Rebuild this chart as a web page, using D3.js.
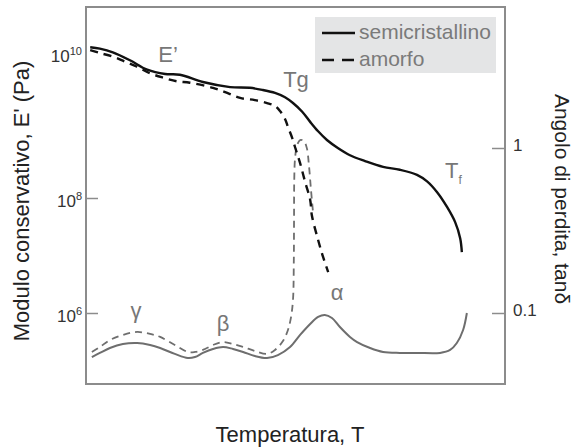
<!DOCTYPE html>
<html>
<head>
<meta charset="utf-8">
<script src="https://cdn.jsdelivr.net/npm/d3@7"></script>
<style>
  body { margin: 0; background: #fff; }
  svg { display: block; font-family: "Liberation Sans", Arial, sans-serif; }
</style>
</head>
<body>
<div id="chart"></div>
<script>
// temperature is unitless (0..100), E' stored as log10(Pa), tanδ as log10(tanδ)
const tSemiE = [1.0, 3.3, 6.4, 10.5, 14.6, 18.9, 22.4, 27.9, 34.4, 39.1, 42.2, 45.1, 47.5, 49.4, 51.6, 53.5, 55.4, 57.5, 60.1, 63.0, 66.6, 70.9, 74.9, 79.0, 81.4, 83.8, 86.2, 88.1, 89.3, 89.7];
const eSemi  = [10.08, 10.06, 10.01, 9.90, 9.77, 9.71, 9.70, 9.60, 9.53, 9.52, 9.49, 9.45, 9.39, 9.31, 9.19, 9.05, 8.92, 8.80, 8.69, 8.59, 8.51, 8.43, 8.39, 8.32, 8.23, 8.08, 7.84, 7.58, 7.30, 7.06];

const tAmorfoE = [1.0, 3.3, 6.4, 9.3, 12.2, 15.3, 18.4, 21.7, 24.8, 30.3, 33.7, 36.8, 40.3, 43.2, 45.1, 46.3, 47.5, 48.2, 49.2, 49.9, 51.1, 52.3, 53.5, 53.9, 55.4, 56.6, 57.8];
const eAmorfo  = [10.04, 10.0, 9.95, 9.88, 9.81, 9.72, 9.66, 9.61, 9.59, 9.52, 9.45, 9.38, 9.35, 9.31, 9.27, 9.20, 9.09, 8.98, 8.83, 8.70, 8.48, 8.22, 7.97, 7.70, 7.27, 6.97, 6.71];

const tSemiTan = [1.4, 3.3, 5.7, 8.8, 12.2, 15.3, 17.7, 21.2, 24.3, 26.0, 27.9, 30.3, 32.7, 35.1, 37.5, 40.3, 43.2, 45.8, 48.7, 51.1, 53.5, 55.4, 57.0, 58.7, 60.6, 63.0, 64.7, 67.8, 70.9, 74.9, 79.0, 84.5, 86.9, 88.5, 90.0, 90.9];
const tanSemi  = [-1.267, -1.242, -1.212, -1.188, -1.182, -1.194, -1.212, -1.248, -1.273, -1.267, -1.242, -1.218, -1.206, -1.218, -1.236, -1.261, -1.273, -1.255, -1.206, -1.133, -1.067, -1.024, -1.012, -1.030, -1.085, -1.145, -1.176, -1.212, -1.236, -1.242, -1.242, -1.242, -1.224, -1.182, -1.103, -1.0];

const tAmorfoTan = [1.4, 3.3, 5.7, 8.8, 12.2, 15.3, 17.7, 21.2, 24.3, 26.0, 27.9, 30.3, 32.7, 35.1, 37.5, 40.3, 43.2, 45.1, 47.0, 48.2, 48.9, 49.4, 49.6, 49.65, 49.7, 49.9, 50.4, 51.1, 52.0, 52.7, 53.2, 53.7, 54.2];
const tanAmorfo  = [-1.236, -1.206, -1.164, -1.133, -1.115, -1.127, -1.145, -1.194, -1.236, -1.236, -1.224, -1.194, -1.176, -1.188, -1.206, -1.230, -1.248, -1.224, -1.170, -1.103, -1.030, -0.921, -0.679, -0.436, -0.194, -0.061, 0.018, 0.048, 0.042, 0.0, -0.103, -0.255, -0.394];

const eTicks = [1e6, 1e8, 1e10];
const tanTicks = [0.1, 1];
const legendLabels = ["semicristallino", "amorfo"];

const W = 576, H = 448;
const svg = d3.select("#chart").append("svg").attr("width", W).attr("height", H);

const x = d3.scaleLinear().domain([0, 100]).range([86, 505]);
// the drawing is schematic: decades on the left axis are not evenly spaced
const yE = d3.scaleLog().domain(eTicks).range([313, 198, 53]);
const yTan = d3.scaleLog().domain(tanTicks).range([313, 148]);

const zip = (a, b) => a.map((t, i) => [t, b[i]]);
const lineE = d3.line().x(d => x(d[0])).y(d => yE(Math.pow(10, d[1]))).curve(d3.curveCatmullRom.alpha(0.5));
const lineTan = d3.line().x(d => x(d[0])).y(d => yTan(Math.pow(10, d[1]))).curve(d3.curveCatmullRom.alpha(0.5));

// frame
svg.append("rect")
  .attr("x", 86).attr("y", 7).attr("width", 419).attr("height", 377)
  .attr("fill", "none").attr("stroke", "#8c8c8c").attr("stroke-width", 2);

// left axis
const gl = svg.append("g").attr("transform", "translate(86,0)")
  .call(d3.axisLeft(yE).tickValues(eTicks).tickSizeInner(-12).tickSizeOuter(0).tickPadding(4));
gl.select(".domain").remove();
gl.selectAll(".tick line").attr("stroke", "#8c8c8c").attr("stroke-width", 1.5)
  .filter(d => d === 1e10).remove();
gl.selectAll(".tick text").each(function (d) {
  const t = d3.select(this).text("").attr("fill", "#333").attr("font-size", 17).attr("y", 3);
  t.append("tspan").text("10");
  t.append("tspan").attr("font-size", 11).attr("dy", -7).text(Math.round(Math.log10(d)));
});

// right axis
const gr = svg.append("g").attr("transform", "translate(505,0)")
  .call(d3.axisRight(yTan).tickValues(tanTicks).tickFormat(d3.format("")).tickSizeInner(-13).tickSizeOuter(0).tickPadding(8));
gr.select(".domain").remove();
gr.selectAll(".tick line").attr("stroke", "#8c8c8c").attr("stroke-width", 1.5);
gr.selectAll(".tick text").attr("fill", "#333").attr("font-size", 17).attr("y", -3);

// tan delta curves (grey)
svg.append("path").datum(zip(tSemiTan, tanSemi)).attr("d", lineTan)
  .attr("fill", "none").attr("stroke", "#6e6e6e").attr("stroke-width", 2);
svg.append("path").datum(zip(tAmorfoTan, tanAmorfo)).attr("d", lineTan)
  .attr("fill", "none").attr("stroke", "#6e6e6e").attr("stroke-width", 1.8).attr("stroke-dasharray", "7,5");

// storage modulus curves (black)
svg.append("path").datum(zip(tSemiE, eSemi)).attr("d", lineE)
  .attr("fill", "none").attr("stroke", "#111").attr("stroke-width", 2.4);
svg.append("path").datum(zip(tAmorfoE, eAmorfo)).attr("d", lineE)
  .attr("fill", "none").attr("stroke", "#111").attr("stroke-width", 2.4).attr("stroke-dasharray", "8,6");

// curve annotations
const notes = [
  { text: "E\u2019", x: 168, y: 62 },
  { text: "Tg", x: 296, y: 87 },
  { text: "\u03b3", x: 136, y: 318 },
  { text: "\u03b2", x: 223, y: 331 },
  { text: "\u03b1", x: 337, y: 300 },
];
svg.selectAll(".note").data(notes).enter().append("text")
  .attr("x", d => d.x).attr("y", d => d.y)
  .attr("text-anchor", "middle").attr("font-size", 22).attr("fill", "#777")
  .text(d => d.text);
const tf = svg.append("text").attr("x", 445).attr("y", 178).attr("font-size", 22).attr("fill", "#777");
tf.append("tspan").text("T");
tf.append("tspan").attr("font-size", 12).attr("dy", 6).text("f");

// legend
svg.append("rect").attr("x", 315).attr("y", 17).attr("width", 181).attr("height", 56).attr("fill", "#e4e5e6");
legendLabels.forEach((lab, i) => {
  const ly = 33 + i * 27;
  svg.append("line").attr("x1", 322).attr("x2", 355).attr("y1", ly).attr("y2", ly)
    .attr("stroke", "#111").attr("stroke-width", 2.4)
    .attr("stroke-dasharray", i === 1 ? "12,8" : null);
  svg.append("text").attr("x", 359).attr("y", ly + 6).attr("font-size", 21).attr("fill", "#7a7a7a").text(lab);
});

// axis titles
svg.append("text").attr("transform", "translate(29,201) rotate(-90)")
  .attr("text-anchor", "middle").attr("font-size", 22).attr("fill", "#222")
  .text("Modulo conservativo, E' (Pa)");
svg.append("text").attr("transform", "translate(555,199) rotate(90)")
  .attr("text-anchor", "middle").attr("font-size", 21).attr("fill", "#222")
  .text("Angolo di perdita, tan\u03b4");
svg.append("text").attr("x", 290).attr("y", 442)
  .attr("text-anchor", "middle").attr("font-size", 22).attr("fill", "#222")
  .text("Temperatura, T");
</script>
</body>
</html>
